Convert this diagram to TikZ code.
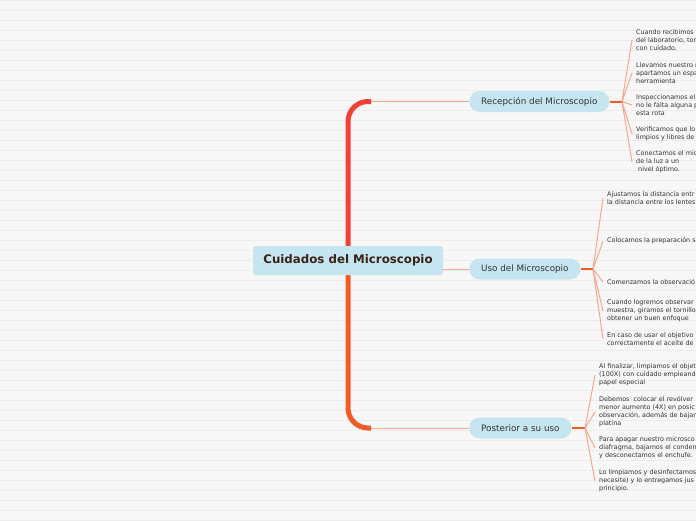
\documentclass[tikz,border=0pt]{standalone}
\usepackage{fontspec}
\setmainfont{DejaVu Sans}
\usetikzlibrary{positioning, backgrounds}
\definecolor{MapPaper}{HTML}{F7F7F7}
\definecolor{MapRule}{HTML}{ECECEC}
\definecolor{MapBlue}{HTML}{C5E5F0}
\definecolor{MapBrown}{HTML}{3A2419}
\definecolor{MapText}{HTML}{333333}
\definecolor{MapRed}{HTML}{EF4136}
\definecolor{MapOrange}{HTML}{F15A29}
\definecolor{MapSalmon}{HTML}{F7A690}
\tikzset{
    rootbox/.style={
        fill=MapBlue,
        rounded corners=3pt,
        minimum width=190pt,
        minimum height=29pt,
        text=MapBrown,
        font=\fontsize{11.8}{14}\selectfont\bfseries,
        inner sep=0pt
    },
    topicbox/.style={
        fill=MapBlue,
        rounded corners=10.5pt,
        minimum height=21pt,
        inner xsep=12pt,
        inner ysep=0pt,
        text=MapText,
        font=\fontsize{8.8}{10}\selectfont,
        anchor=west
    },
    leaf/.style={
        anchor=west,
        align=left,
        inner xsep=4pt,
        inner ysep=0pt,
        text=MapText,
        font=\fontsize{6.4}{8}\selectfont
    },
    spine/.style={
        draw=#1,
        line width=5pt,
        rounded corners=20pt
    },
    spine/.default=MapRed,
    twig/.style={
        draw=MapSalmon,
        line width=1pt
    },
    stub/.style={
        draw=MapOrange,
        line width=2pt
    }
}

\begin{document}
\begin{tikzpicture}[x=1pt, y=-1pt]
        \useasboundingbox (0,0) rectangle (696,520);
        \clip (0,0) rectangle (696,520);

        % Root
        \node[rootbox] (root) at (348,260.5) {Cuidados del Microscopio};

        % Topics
        \node[topicbox] (recep) at (469,101.5) {Recepción del Microscopio};
        \node[topicbox] (uso) at (469,269) {Uso del Microscopio};
        \node[topicbox] (post) at (469,428) {Posterior a su uso};

        \coordinate (recepBend) at (371,101.5);
        \coordinate (postBend) at (371,428);
        \coordinate (recepJoint) at (622,101.5);
        \coordinate (usoJoint) at (593,269);
        \coordinate (postJoint) at (585,428);

        % Recepcion leaves
        \node[leaf] (recep1) at (632,40) {Cuando recibimos\\del laboratorio, tor\\con cuidado.};
        \node[leaf] (recep2) at (632,73) {Llevamos nuestro r\\apartamos un espa\\herramienta};
        \node[leaf] (recep3) at (632,105) {Inspeccionamos el\\no le falta alguna p\\esta rota};
        \node[leaf] (recep4) at (632,134) {Verificamos que lo\\limpios y libres de};
        \node[leaf] (recep5) at (632,162) {Conectamos el mic\\de la luz a un\\\ nivel óptimo.};

        % Uso leaves
        \node[leaf] (uso1) at (603,198) {Ajustamos la distancia entr\\la distancia entre los lentes};
        \node[leaf] (uso2) at (603,241) {Colocamos la preparación s};
        \node[leaf] (uso3) at (603,282) {Comenzamos la observació};
        \node[leaf] (uso4) at (603,311) {Cuando logremos observar\\muestra, giramos el tornillo\\obtener un buen enfoque};
        \node[leaf] (uso5) at (603,339) {En caso de usar el objetivo\\correctamente el aceite de};

        % Posterior leaves
        \node[leaf] (post1) at (595,375) {Al finalizar, limpiamos el objet\\(100X) con cuidado empleando\\papel especial};
        \node[leaf] (post2) at (595,412) {Debemos\ \ colocar el revólver\\menor aumento (4X) en posic\\observación, además de bajar\\platina};
        \node[leaf] (post3) at (595,448) {Para apagar nuestro microsco\\diafragma, bajamos el conden\\y desconectamos el enchufe.};
        \node[leaf] (post4) at (595,481) {Lo limpiamos y desinfectamos\\necesite) y lo entregamos jus\\principio.};

        % Paper and branches
        \begin{scope}[on background layer]
            \fill[MapPaper] (0,0) rectangle (696,520);
            \foreach \y in {0,10,...,520}
                \draw[MapRule, line width=1pt] (0,\y+0.5) -- (696,\y+0.5);
            \draw[spine=MapRed] (root.center) |- (recepBend);
            \draw[spine=MapOrange] (root.center) |- (postBend);
            \draw[twig] (recepBend) -- (recep.west);
            \draw[twig] (postBend) -- (post.west);
            \draw[twig] (root.east |- uso.west) -- (uso.west);
        \end{scope}

        \draw[stub] (recep.east) -- (recepJoint);
        \draw[stub] (uso.east) -- (usoJoint);
        \draw[stub] (post.east) -- (postJoint);

        \draw[twig] (recepJoint) -- (recep1.west) (recepJoint) -- (recep2.west)
            (recepJoint) -- (recep3.west) (recepJoint) -- (recep4.west)
            (recepJoint) -- (recep5.west);
        \draw[twig] (usoJoint) -- (uso1.west) (usoJoint) -- (uso2.west)
            (usoJoint) -- (uso3.west) (usoJoint) -- (uso4.west)
            (usoJoint) -- (uso5.west);
        \draw[twig] (postJoint) -- (post1.west) (postJoint) -- (post2.west)
            (postJoint) -- (post3.west) (postJoint) -- (post4.west);
    \end{tikzpicture}
\end{document}
